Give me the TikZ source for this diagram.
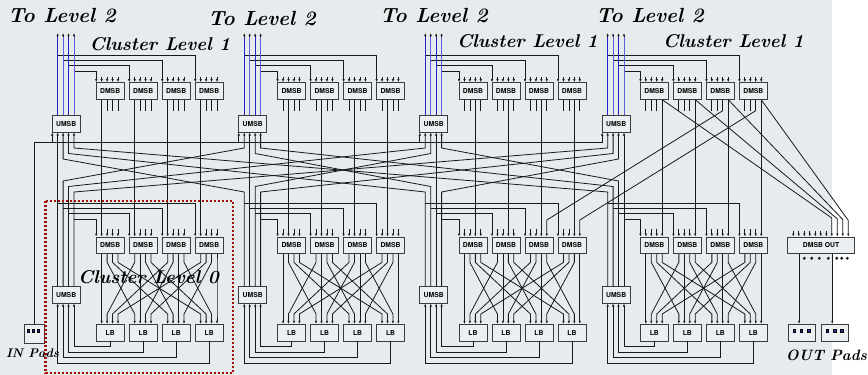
\documentclass[tikz,border=0pt]{standalone}
\usepackage{fontspec}
\newfontfamily\boxfont{TeX Gyre Heros}
\usepackage{tikz}
\usetikzlibrary{arrows.meta, calc, positioning}

\definecolor{bgcol}{RGB}{230,235,238}
\definecolor{wirecol}{RGB}{25,25,25}
\definecolor{boxline}{RGB}{60,60,60}
\definecolor{boxfill}{RGB}{236,239,241}
\definecolor{busblue}{RGB}{35,35,200}
\definecolor{busblueb}{RGB}{95,95,225}
\definecolor{padblue}{RGB}{30,40,170}
\definecolor{clusterred}{RGB}{165,10,10}

\tikzset{
  msb/.style={draw=boxline, fill=boxfill, line width=0.9pt, minimum width=28pt,
    minimum height=16.5pt, inner sep=0pt, anchor=north west,
    font=\boxfont\bfseries\fontsize{6.8}{7}\selectfont},
  wire/.style={draw=wirecol, line width=0.8pt},
  pin/.style={wire, -{Latex[length=3.2pt,width=2.4pt]}},
  title/.style={inner sep=0pt, font=\bfseries\itshape\fontsize{18.5}{20}\selectfont},
  uplabel/.style={inner sep=0pt, font=\bfseries\itshape\fontsize{20.5}{22}\selectfont},
}

\begin{document}
\begin{tikzpicture}[x=1pt, y=-1pt]
  \fill[white] (0,0) rectangle (868,375);
  \fill[bgcol] (0,0) rectangle (832,375);
  \useasboundingbox (0,0) rectangle (868,375);

  % boxes of the four clusters
  \foreach \c/\ux in {1/51.7, 2/238.3, 3/419.3, 4/601.7}{
    \node[msb] (UpU\c) at (\ux,115) {UMSB};
    \node[msb] (LoU\c) at (\ux,286) {UMSB};
    \foreach \p in {1,...,5}{
      \coordinate (UpU\c-t\p) at ($(UpU\c.north west)+({0.5+5.45*(\p-1)},0)$);
      \coordinate (UpU\c-b\p) at ($(UpU\c.south west)+({0.5+5.45*(\p-1)},0)$);
      \coordinate (LoU\c-t\p) at ($(LoU\c.north west)+({0.5+5.45*(\p-1)},0)$);
      \coordinate (LoU\c-b\p) at ($(LoU\c.south west)+({0.5+5.45*(\p-1)},0)$);
    }
    \foreach \j in {1,...,4}{
      \pgfmathsetmacro\bx{95.7+181.4*(\c-1)+33*(\j-1)}
      \node[msb] (UpD\c\j) at (\bx,82.3) {DMSB};
      \node[msb] (LoD\c\j) at (\bx,236.7) {DMSB};
      \node[msb] (LB\c\j) at (\bx,324) {LB};
      \foreach \p in {1,...,5}{
        \coordinate (UpD\c\j-t\p) at ($(UpD\c\j.north west)+({0.5+5.45*(\p-1)},0)$);
        \coordinate (UpD\c\j-b\p) at ($(UpD\c\j.south west)+({0.5+5.45*(\p-1)},0)$);
        \coordinate (LoD\c\j-t\p) at ($(LoD\c\j.north west)+({0.5+5.45*(\p-1)},0)$);
        \coordinate (LoD\c\j-b\p) at ($(LoD\c\j.south west)+({0.5+5.45*(\p-1)},0)$);
        \coordinate (LB\c\j-t\p) at ($(LB\c\j.north west)+({0.5+5.45*(\p-1)},0)$);
      }
    }
  }

  % pads and output switch box
  \node[msb, minimum width=66.7pt, minimum height=16pt] (DmsbOut) at (787.3,236.7) {DMSB OUT};
  \node[msb, minimum width=19.7pt, minimum height=19pt] (InPad) at (24,324) {};
  \node[msb, minimum width=27.3pt, minimum height=16.7pt] (OutPadA) at (787.7,324) {};
  \node[msb, minimum width=27.6pt, minimum height=16.7pt] (OutPadB) at (820.7,324) {};
  \foreach \i in {1,...,11}
    \coordinate (DmsbOut-t\i) at ($(DmsbOut.north west)+({6+5.5*(\i-1)},0)$);
  \foreach \x in {28.3,33.3,38.3,794,801.3,808.7,827.2,834.5,841.8}
    \filldraw[fill=padblue, draw=black, line width=0.3pt] (\x-1.3,329.4) rectangle ++(2.6,2.6);

  % level 2 buses and branches to the upper DMSBs
  \foreach \c in {1,...,4}{
    \foreach \p in {2,...,5}{
      \pgfmathtruncatemacro\j{6-\p}
      \pgfmathsetmacro\yh{55+5.3*(\p-2)}
      \draw[pin] (UpU\c-t\p |- 0,\yh) -| (UpD\c\j-t1);
      \draw[pin] (UpU\c-t\p) -- (UpU\c-t\p |- 0,33);
      \ifodd\p \def\bc{busblueb}\else\def\bc{busblue}\fi
      \draw[draw=\bc, line width=0.9pt] (UpU\c-t\p) -- (UpU\c-t\p |- 0,37);
    }
  }

  % inputs and outputs of the DMSBs
  \foreach \c in {1,...,4}{
    \pgfmathtruncatemacro\lp{\c+1}
    \foreach \j in {1,...,4}{
      \foreach \p in {2,...,5}{
        \draw[pin] ($(UpD\c\j-t\p)+(0,-5.5)$) -- (UpD\c\j-t\p);
        \def\stub{1}
        \ifnum\p=\lp
          \draw[pin] (UpD\c\j-b\p) -- (LoD\c\j-t\p);
          \def\stub{0}
        \else
          \draw[wire] (UpD\c\j-b\p) -- ++(0,11);
        \fi
        \ifnum\c=3 \ifnum\j>2 \ifnum\p=5 \def\stub{0}\fi\fi\fi
        \if1\stub \draw[pin] ($(LoD\c\j-t\p)+(0,-7.7)$) -- (LoD\c\j-t\p);\fi
      }
      % crossbar to the logic blocks
      \foreach \k in {1,...,4}{
        \pgfmathtruncatemacro\qa{\k+1}
        \pgfmathtruncatemacro\qb{\j+1}
        \draw[pin] (LoD\c\j-b\qa) -- ++(0,8.3) -- ($(LB\c\k-t\qb)+(0,-10)$) -- (LB\c\k-t\qb);
      }
      % logic block outputs back to the lower UMSB
      \pgfmathtruncatemacro\qc{6-\j}
      \pgfmathsetmacro\dy{5.2+5.55*(\j-1)}
      \draw[pin] (LB\c\j.south) -- ++(0,\dy) -| (LoU\c-b\qc);
    }
    % lower UMSB to lower DMSBs
    \foreach \p in {2,...,5}{
      \pgfmathtruncatemacro\j{6-\p}
      \pgfmathsetmacro\yh{203+5.4*(\p-2)}
      \draw[pin] (LoU\c-t\p |- 0,\yh) -| (LoD\c\j-t1);
    }
  }

  % links between the level 0 and level 1 UMSBs
  \foreach \k in {1,...,4}{
    \foreach \c in {1,...,4}{
      \pgfmathtruncatemacro\pu{\c+1}
      \pgfmathtruncatemacro\pl{\k+1}
      \ifnum\c=\k
        \draw[pin] (LoU\c-t\pl) -- (UpU\k-b\pu);
      \else
        \ifnum\c>\k
          \pgfmathsetmacro\yu{148+5.5*(4-\c)}
          \pgfmathsetmacro\yl{192-5.5*(\k-1)}
        \else
          \pgfmathsetmacro\yu{148+5.5*(\c-1)}
          \pgfmathsetmacro\yl{192-5.5*(4-\k)}
        \fi
        \draw[pin] (LoU\c-t\pl) -- (LoU\c-t\pl |- 0,\yl) -- (UpU\k-b\pu |- 0,\yu) -- (UpU\k-b\pu);
      \fi
    }
  }

  % input pad bus
  \draw[wire] (InPad.north) |- (UpU4-b1 |- 0,142.5);
  \foreach \c in {1,...,4}
    \draw[pin] (UpU\c-b1 |- 0,142.5) -- (UpU\c-b1);

  % cluster 4 extra links
  \foreach \j in {1,...,4}{
    \pgfmathtruncatemacro\q{7+\j}
    \pgfmathsetmacro\yd{218+0.8*(\j-1)}
    \draw[pin] (UpD4\j-b5) -- (DmsbOut-t\q |- 0,\yd) -- (DmsbOut-t\q);
  }
  \foreach \j in {3,4}
    \draw[pin] ($(UpD4\j-b4)+(0,11)$) -- (LoD3\j-t5 |- 0,220) -- (LoD3\j-t5);
  \foreach \i in {1,...,7}
    \draw[pin] ($(DmsbOut-t\i)+(0,-6)$) -- (DmsbOut-t\i);
  \coordinate (OutSrcA) at ($(DmsbOut.south west)+(11.7,0)$);
  \coordinate (OutSrcB) at ($(DmsbOut.south west)+(45,0)$);
  \draw[pin] (OutSrcA) -- (OutSrcA |- OutPadA.north);
  \draw[pin] (OutSrcB) -- (OutSrcB |- OutPadB.north);
  \foreach \x in {804.3,811.7,819.3,828.3,836.7,841.7,847.3}
    \fill[wirecol] (\x,258.3) circle (1.6pt);

  % level 0 cluster outline
  \draw[clusterred, line width=2.6pt, dash pattern=on 2.4pt off 1.6pt] (45.7,201) rectangle (233,373);

  % labels
  \node[uplabel] (ToLvlA) at (62,16) {To Level 2};
  \node[uplabel] (ToLvlB) at (262,19) {To Level 2};
  \node[uplabel] (ToLvlC) at (434,16) {To Level 2};
  \node[uplabel] (ToLvlD) at (650,16) {To Level 2};
  \node[title] (ClLvlA) at (160,44) {Cluster Level 1};
  \node[title] (ClLvlC) at (527.5,41) {Cluster Level 1};
  \node[title] (ClLvlD) at (733.5,41) {Cluster Level 1};
  \node[title] (ClLvlZero) at (148.5,277) {Cluster Level 0};
  \node[inner sep=0pt, font=\bfseries\itshape\fontsize{12.5}{13}\selectfont] (InPadsTxt) at (32.5,353) {IN Pads};
  \node[inner sep=0pt, font=\bfseries\itshape\fontsize{15}{16}\selectfont] (OutPadsTxt) at (826.5,355) {OUT Pads};
\end{tikzpicture}
\end{document}
